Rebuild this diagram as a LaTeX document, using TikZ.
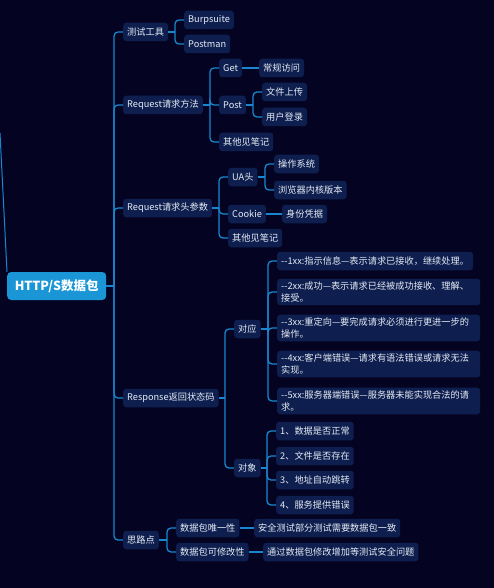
\documentclass[tikz,border=0pt]{standalone}
\usepackage{fontspec}
\setmainfont{Noto Sans CJK SC}
\usetikzlibrary{calc}
\definecolor{bgc}{HTML}{040422}
\definecolor{nodefill}{HTML}{0E1E4E}
\definecolor{linec}{HTML}{1887CF}
\definecolor{rootfill}{HTML}{1A96D6}
\definecolor{txt}{HTML}{E6ECF5}
\newcommand\mmbranch[2]{%
  \coordinate (J) at ($(#1.east -| #2.west)+(-9pt,0)$);
  \draw[conn] (#1.east) -- (J);
  \draw[conn,rounded corners=4pt] (J) |- (#2.west);}
\newcommand\mmstraight[2]{\draw[conn] (#1.east) -- (#2.west);}
\begin{document}
\begin{tikzpicture}[x=1pt,y=-1pt,
  box/.style={fill=nodefill, rounded corners=3pt, text=txt, font=\fontsize{9.2}{12}\selectfont, inner xsep=4pt, inner ysep=2pt, minimum height=18.5pt, anchor=west},
  para/.style={box, align=left, text width=195pt, inner ysep=3pt},
  rootbox/.style={fill=rootfill, rounded corners=4pt, text=white, font=\fontsize{12.5}{14}\selectfont\bfseries, minimum width=99pt, minimum height=28pt, inner xsep=4pt, anchor=west},
  conn/.style={draw=linec, line width=1.3pt}]
\fill[bgc] (0,0) rectangle (494,588);
\useasboundingbox (0,0) rectangle (494,588);

\node[rootbox] (root) at (7,286) {HTTP/S数据包};

\node[box] (t1) at (123,32) {测试工具};
\node[box] (t1a) at (184,20) {Burpsuite};
\node[box] (t1b) at (184,44) {Postman};

\node[box] (t2) at (123,105) {Request请求方法};
\node[box] (t2a) at (219,68) {Get};
\node[box] (t2a1) at (259,68) {常规访问};
\node[box] (t2b) at (219,105) {Post};
\node[box] (t2b1) at (262,92) {文件上传};
\node[box] (t2b2) at (262,117) {用户登录};
\node[box] (t2c) at (219,142) {其他见笔记};

\node[box] (t3) at (123,208) {Request请求头参数};
\node[box] (t3a) at (228,177) {UA头};
\node[box] (t3a1) at (274,164) {操作系统};
\node[box] (t3a2) at (274,190) {浏览器内核版本};
\node[box] (t3b) at (228,214) {Cookie};
\node[box] (t3b1) at (282,214) {身份凭据};
\node[box] (t3c) at (228,238) {其他见笔记};

\node[box] (t4) at (123,398) {Response返回状态码};
\node[box] (t4a) at (234,329) {对应};
\node[box] (s1) at (277,261) {-{}-1xx:指示信息—表示请求已接收，继续处理。};
\node[para] (s2) at (277,292) {\mbox{-{}-2xx:成功—表示请求已经被成功接收、理解、}\\\mbox{接受。}};
\node[para] (s3) at (277,328) {\mbox{-{}-3xx:重定向—要完成请求必须进行更进一步的}\\\mbox{操作。}};
\node[para] (s4) at (277,364) {\mbox{-{}-4xx:客户端错误—请求有语法错误或请求无法}\\\mbox{实现。}};
\node[para] (s5) at (277,401) {\mbox{-{}-5xx:服务器端错误—服务器未能实现合法的请}\\\mbox{求。}};
\node[box] (t4b) at (234,468) {对象};
\node[box] (o1) at (276,431) {1、数据是否正常};
\node[box] (o2) at (276,456) {2、文件是否存在};
\node[box] (o3) at (276,480) {3、地址自动跳转};
\node[box] (o4) at (276,505) {4、服务提供错误};

\node[box] (t5) at (123,540) {思路点};
\node[box] (t5a) at (176,528) {数据包唯一性};
\node[box] (t5a1) at (254,528) {安全测试部分测试需要数据包一致};
\node[box] (t5b) at (176,552) {数据包可修改性};
\node[box] (t5b1) at (263,552) {通过数据包修改增加等测试安全问题};

\coordinate (off) at (0,133);
\draw[conn,line width=1pt] (off) -- (root.north west);

\mmbranch{root}{t1}\mmbranch{root}{t2}\mmbranch{root}{t3}\mmbranch{root}{t4}\mmbranch{root}{t5}
\mmbranch{t1}{t1a}\mmbranch{t1}{t1b}
\mmbranch{t2}{t2a}\mmbranch{t2}{t2b}\mmbranch{t2}{t2c}
\mmstraight{t2a}{t2a1}
\mmbranch{t2b}{t2b1}\mmbranch{t2b}{t2b2}
\mmbranch{t3}{t3a}\mmbranch{t3}{t3b}\mmbranch{t3}{t3c}
\mmbranch{t3a}{t3a1}\mmbranch{t3a}{t3a2}
\mmstraight{t3b}{t3b1}
\mmbranch{t4}{t4a}\mmbranch{t4}{t4b}
\mmbranch{t4a}{s1}\mmbranch{t4a}{s2}\mmbranch{t4a}{s3}\mmbranch{t4a}{s4}\mmbranch{t4a}{s5}
\mmbranch{t4b}{o1}\mmbranch{t4b}{o2}\mmbranch{t4b}{o3}\mmbranch{t4b}{o4}
\mmbranch{t5}{t5a}\mmbranch{t5}{t5b}
\mmstraight{t5a}{t5a1}\mmstraight{t5b}{t5b1}
\end{tikzpicture}
\end{document}
